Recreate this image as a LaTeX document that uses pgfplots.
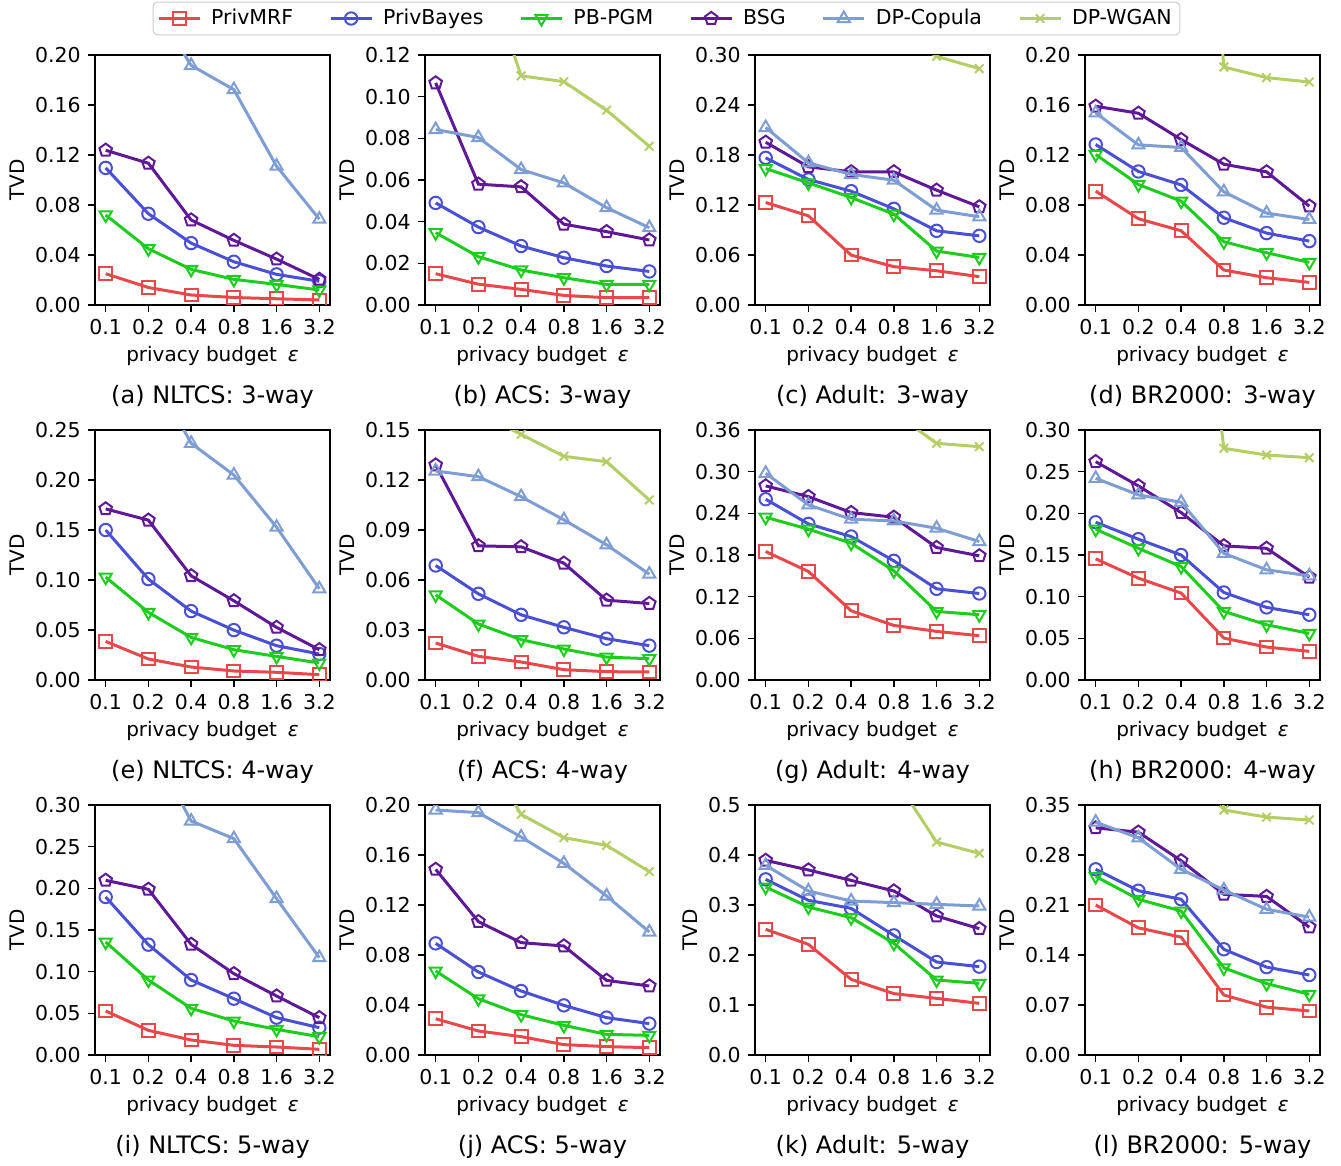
\documentclass[border=0pt]{standalone}
\usepackage{fontspec}
\setmainfont{DejaVu Sans}
\usepackage{pgfplots}
\pgfplotsset{compat=1.18}
\usetikzlibrary{plotmarks}
\newcommand{\ff}{\fontsize{10.25pt}{12.3pt}\selectfont}
\newcommand{\fc}{\fontsize{12pt}{14.4pt}\selectfont}
\definecolor{cMRF}{RGB}{232,72,74}
\definecolor{cPB}{RGB}{74,80,212}
\definecolor{cPGM}{RGB}{30,204,30}
\definecolor{cBSG}{RGB}{95,25,150}
\definecolor{cCOP}{RGB}{126,157,210}
\definecolor{cWG}{RGB}{180,205,100}
\pgfplotsset{
  panel/.style={
    scale only axis, width=117.5pt, height=125pt, anchor=south west,
    xmin=-0.25, xmax=5.25, ymin=0,
    xtick={0,1,2,3,4,5}, xticklabels={0.1,0.2,0.4,0.8,1.6,3.2},
    tick align=outside, xtick pos=left, ytick pos=left,
    major tick length=3.6pt,
    axis line style={line width=0.8pt},
    every tick/.style={black, line width=0.8pt},
    scaled y ticks=false,
    yticklabel style={/pgf/number format/.cd, fixed, fixed zerofill, precision=2},
    /pgf/number format/assume math mode=true,
    tick label style={font=\ff},
    label style={font=\ff},
    xlabel={privacy budget\hspace{0.55em}{\itshape ε}},
    ylabel={TVD},
    every axis x label/.style={at={(axis description cs:0.5,-0.202)}, anchor=center},
    every axis y label/.style={at={(axis description cs:-0.332,0.5)}, rotate=90, anchor=center},
    every axis title/.style={at={(axis description cs:0.5,-0.368)}, anchor=center, font=\fc},
    clip marker paths=true,
  },
  mrf/.style={color=cMRF, line width=1.5pt, mark=square, mark size=3.2pt, mark options={solid, line width=1pt}},
  pb/.style={color=cPB, line width=1.5pt, mark=o, mark size=3.1pt, mark options={solid, line width=1pt}},
  pgm/.style={color=cPGM, line width=1.5pt, mark=triangle, mark size=3.5pt, mark options={solid, line width=1pt, rotate=180}},
  bsg/.style={color=cBSG, line width=1.5pt, mark=pentagon, mark size=3.3pt, mark options={solid, line width=1pt}},
  cop/.style={color=cCOP, line width=1.5pt, mark=triangle, mark size=3.5pt, mark options={solid, line width=1pt}},
  wg/.style={color=cWG, line width=1.5pt, mark=x, mark size=3pt, mark options={solid, line width=1pt}},
}
\begin{document}
\begin{tikzpicture}
\useasboundingbox (0,0) rectangle (670.5pt,-583pt);
% (a)
\begin{axis}[panel, at={(47.5pt,-152.5pt)}, ymax=0.20, ytick={0,0.04,0.08,0.12,0.16,0.20}, title={(a) NLTCS: 3-way}]
\addplot[mrf] coordinates {(0,0.025)(1,0.014)(2,0.008)(3,0.006)(4,0.005)(5,0.004)};
\addplot[pb] coordinates {(0,0.1097)(1,0.073)(2,0.0495)(3,0.0346)(4,0.0245)(5,0.019)};
\addplot[pgm] coordinates {(0,0.072)(1,0.045)(2,0.0285)(3,0.0205)(4,0.0165)(5,0.012)};
\addplot[bsg] coordinates {(0,0.1238)(1,0.1134)(2,0.068)(3,0.0517)(4,0.0367)(5,0.0205)};
\addplot[cop] coordinates {(0,0.28)(1,0.247)(2,0.1917)(3,0.1723)(4,0.111)(5,0.0687)};
\end{axis}
% (b)
\begin{axis}[panel, at={(212.5pt,-152.5pt)}, ymax=0.12, ytick={0,0.02,0.04,0.06,0.08,0.10,0.12}, title={(b) ACS: 3-way},
  legend columns=6,
  legend image code/.code={\draw[sharp corners, mark repeat=2, mark phase=2] plot coordinates {(0pt,0pt) (10.25pt,0pt) (20.5pt,0pt)};},
  legend style={at={(1.0277,1.146)}, anchor=center, draw=black!20, line width=0.5pt, rounded corners=2pt, fill=white, font=\ff, inner xsep=2pt, inner ysep=1.5pt,
    /tikz/every odd column/.append style={column sep=3pt},
    /tikz/every even column/.append style={column sep=16pt}}]
\addplot[mrf] coordinates {(0,0.015)(1,0.010)(2,0.0075)(3,0.0046)(4,0.0035)(5,0.0035)};
\addplot[pb] coordinates {(0,0.049)(1,0.0374)(2,0.0283)(3,0.0227)(4,0.0187)(5,0.0161)};
\addplot[pgm] coordinates {(0,0.0347)(1,0.0232)(2,0.0168)(3,0.0131)(4,0.0099)(5,0.0099)};
\addplot[bsg] coordinates {(0,0.1066)(1,0.058)(2,0.0567)(3,0.0388)(4,0.0352)(5,0.0312)};
\addplot[cop] coordinates {(0,0.0842)(1,0.0804)(2,0.065)(3,0.0586)(4,0.0467)(5,0.0371)};
\addplot[wg] coordinates {(0,0.22)(1,0.171)(2,0.110)(3,0.1072)(4,0.0935)(5,0.0762)};
\legend{PrivMRF,PrivBayes,PB-PGM,BSG,DP-Copula,DP-WGAN}
\end{axis}
% (c)
\begin{axis}[panel, at={(377.5pt,-152.5pt)}, ymax=0.30, ytick={0,0.06,0.12,0.18,0.24,0.30}, title={(c) Adult: 3-way}]
\addplot[mrf] coordinates {(0,0.123)(1,0.107)(2,0.0599)(3,0.046)(4,0.0411)(5,0.034)};
\addplot[pb] coordinates {(0,0.1766)(1,0.1506)(2,0.1366)(3,0.1154)(4,0.089)(5,0.083)};
\addplot[pgm] coordinates {(0,0.1638)(1,0.1466)(2,0.129)(3,0.109)(4,0.0647)(5,0.0571)};
\addplot[bsg] coordinates {(0,0.1953)(1,0.1658)(2,0.1598)(3,0.1598)(4,0.1378)(5,0.1178)};
\addplot[cop] coordinates {(0,0.213)(1,0.1706)(2,0.1566)(3,0.1498)(4,0.1138)(5,0.1059)};
\addplot[wg] coordinates {(0,0.45)(1,0.40)(2,0.36)(3,0.33)(4,0.2984)(5,0.2836)};
\end{axis}
% (d)
\begin{axis}[panel, at={(542.5pt,-152.5pt)}, ymax=0.20, ytick={0,0.04,0.08,0.12,0.16,0.20}, title={(d) BR2000: 3-way}]
\addplot[mrf] coordinates {(0,0.0911)(1,0.069)(2,0.0594)(3,0.028)(4,0.0218)(5,0.0181)};
\addplot[pb] coordinates {(0,0.1284)(1,0.1068)(2,0.0961)(3,0.0698)(4,0.0575)(5,0.0511)};
\addplot[pgm] coordinates {(0,0.1204)(1,0.0964)(2,0.0831)(3,0.0506)(4,0.0418)(5,0.0341)};
\addplot[bsg] coordinates {(0,0.159)(1,0.1534)(2,0.1324)(3,0.1126)(4,0.1065)(5,0.0791)};
\addplot[cop] coordinates {(0,0.1537)(1,0.1281)(2,0.126)(3,0.0905)(4,0.0735)(5,0.0684)};
\addplot[wg] coordinates {(0,0.75)(1,0.70)(2,0.62)(3,0.1904)(4,0.1819)(5,0.1784)};
\end{axis}
% (e)
\begin{axis}[panel, at={(47.5pt,-340pt)}, ymax=0.25, ytick={0,0.05,0.10,0.15,0.20,0.25}, title={(e) NLTCS: 4-way}]
\addplot[mrf] coordinates {(0,0.0386)(1,0.021)(2,0.013)(3,0.009)(4,0.0077)(5,0.0053)};
\addplot[pb] coordinates {(0,0.150)(1,0.1009)(2,0.0689)(3,0.0499)(4,0.0343)(5,0.026)};
\addplot[pgm] coordinates {(0,0.1029)(1,0.0676)(2,0.0426)(3,0.0303)(4,0.0236)(5,0.017)};
\addplot[bsg] coordinates {(0,0.1711)(1,0.1598)(2,0.1042)(3,0.0792)(4,0.0526)(5,0.0303)};
\addplot[cop] coordinates {(0,0.36)(1,0.315)(2,0.2367)(3,0.205)(4,0.1528)(5,0.0912)};
\end{axis}
% (f)
\begin{axis}[panel, at={(212.5pt,-340pt)}, ymax=0.15, ytick={0,0.03,0.06,0.09,0.12,0.15}, title={(f) ACS: 4-way}]
\addplot[mrf] coordinates {(0,0.0222)(1,0.0142)(2,0.0108)(3,0.0062)(4,0.0050)(5,0.0048)};
\addplot[pb] coordinates {(0,0.0687)(1,0.0517)(2,0.0391)(3,0.0316)(4,0.0248)(5,0.0206)};
\addplot[pgm] coordinates {(0,0.0511)(1,0.0336)(2,0.0242)(3,0.0186)(4,0.0137)(5,0.0128)};
\addplot[bsg] coordinates {(0,0.129)(1,0.0805)(2,0.0799)(3,0.0701)(4,0.0479)(5,0.0459)};
\addplot[cop] coordinates {(0,0.1254)(1,0.122)(2,0.110)(3,0.0961)(4,0.0811)(5,0.0635)};
\addplot[wg] coordinates {(0,0.19)(1,0.160)(2,0.1474)(3,0.1342)(4,0.131)(5,0.108)};
\end{axis}
% (g)
\begin{axis}[panel, at={(377.5pt,-340pt)}, ymax=0.36, ytick={0,0.06,0.12,0.18,0.24,0.30,0.36}, title={(g) Adult: 4-way}]
\addplot[mrf] coordinates {(0,0.185)(1,0.1563)(2,0.0997)(3,0.0786)(4,0.070)(5,0.0638)};
\addplot[pb] coordinates {(0,0.2603)(1,0.2248)(2,0.2066)(3,0.1716)(4,0.1313)(5,0.1246)};
\addplot[pgm] coordinates {(0,0.2344)(1,0.2172)(2,0.197)(3,0.1572)(4,0.0987)(5,0.094)};
\addplot[bsg] coordinates {(0,0.2795)(1,0.2641)(2,0.2411)(3,0.2344)(4,0.1908)(5,0.1788)};
\addplot[cop] coordinates {(0,0.2977)(1,0.2521)(2,0.2315)(3,0.2291)(4,0.2186)(5,0.1994)};
\addplot[wg] coordinates {(0,0.50)(1,0.45)(2,0.42)(3,0.3855)(4,0.3408)(5,0.336)};
\end{axis}
% (h)
\begin{axis}[panel, at={(542.5pt,-340pt)}, ymax=0.30, ytick={0,0.05,0.10,0.15,0.20,0.25,0.30}, title={(h) BR2000: 4-way}]
\addplot[mrf] coordinates {(0,0.1454)(1,0.1222)(2,0.1043)(3,0.0503)(4,0.0395)(5,0.0344)};
\addplot[pb] coordinates {(0,0.1893)(1,0.169)(2,0.150)(3,0.105)(4,0.0871)(5,0.0783)};
\addplot[pgm] coordinates {(0,0.181)(1,0.158)(2,0.1362)(3,0.0823)(4,0.0663)(5,0.0559)};
\addplot[bsg] coordinates {(0,0.262)(1,0.2329)(2,0.2009)(3,0.161)(4,0.158)(5,0.1234)};
\addplot[cop] coordinates {(0,0.242)(1,0.2221)(2,0.2133)(3,0.152)(4,0.1322)(5,0.125)};
\addplot[wg] coordinates {(0,0.80)(1,0.75)(2,0.70)(3,0.278)(4,0.270)(5,0.2668)};
\end{axis}
% (i)
\begin{axis}[panel, at={(47.5pt,-527.5pt)}, ymax=0.30, ytick={0,0.05,0.10,0.15,0.20,0.25,0.30}, title={(i) NLTCS: 5-way}]
\addplot[mrf] coordinates {(0,0.0528)(1,0.0296)(2,0.018)(3,0.0116)(4,0.0096)(5,0.0068)};
\addplot[pb] coordinates {(0,0.1896)(1,0.1324)(2,0.090)(3,0.0676)(4,0.0448)(5,0.0328)};
\addplot[pgm] coordinates {(0,0.1356)(1,0.09)(2,0.056)(3,0.0408)(4,0.0308)(5,0.022)};
\addplot[bsg] coordinates {(0,0.2096)(1,0.1988)(2,0.1328)(3,0.0976)(4,0.0708)(5,0.0448)};
\addplot[cop] coordinates {(0,0.42)(1,0.377)(2,0.2808)(3,0.2596)(4,0.1876)(5,0.1168)};
\end{axis}
% (j)
\begin{axis}[panel, at={(212.5pt,-527.5pt)}, ymax=0.20, ytick={0,0.04,0.08,0.12,0.16,0.20}, title={(j) ACS: 5-way}]
\addplot[mrf] coordinates {(0,0.029)(1,0.0192)(2,0.0147)(3,0.0083)(4,0.0067)(5,0.0059)};
\addplot[pb] coordinates {(0,0.0893)(1,0.0664)(2,0.0512)(3,0.0397)(4,0.0299)(5,0.0251)};
\addplot[pgm] coordinates {(0,0.0672)(1,0.045)(2,0.0323)(3,0.0237)(4,0.0165)(5,0.0157)};
\addplot[bsg] coordinates {(0,0.1485)(1,0.1067)(2,0.0899)(3,0.0872)(4,0.0597)(5,0.0552)};
\addplot[cop] coordinates {(0,0.196)(1,0.1939)(2,0.1744)(3,0.1533)(4,0.1272)(5,0.0984)};
\addplot[wg] coordinates {(0,0.30)(1,0.25)(2,0.1925)(3,0.1739)(4,0.1677)(5,0.1467)};
\end{axis}
% (k)
\begin{axis}[panel, at={(377.5pt,-527.5pt)}, ymax=0.5, ytick={0,0.1,0.2,0.3,0.4,0.5}, title={(k) Adult: 5-way},
  yticklabel style={/pgf/number format/.cd, fixed, fixed zerofill, precision=1},
  every axis y label/.style={at={(axis description cs:-0.277,0.5)}, rotate=90, anchor=center}]
\addplot[mrf] coordinates {(0,0.2513)(1,0.2213)(2,0.1513)(3,0.1227)(4,0.1133)(5,0.1033)};
\addplot[pb] coordinates {(0,0.3513)(1,0.3093)(2,0.2933)(3,0.2393)(4,0.186)(5,0.1767)};
\addplot[pgm] coordinates {(0,0.336)(1,0.296)(2,0.2747)(3,0.2233)(4,0.15)(5,0.1433)};
\addplot[bsg] coordinates {(0,0.3893)(1,0.37)(2,0.3493)(3,0.328)(4,0.278)(5,0.2527)};
\addplot[cop] coordinates {(0,0.3793)(1,0.328)(2,0.308)(3,0.3047)(4,0.3013)(5,0.298)};
\addplot[wg] coordinates {(0,0.80)(1,0.70)(2,0.65)(3,0.556)(4,0.426)(5,0.4033)};
\end{axis}
% (l)
\begin{axis}[panel, at={(542.5pt,-527.5pt)}, ymax=0.35, ytick={0,0.07,0.14,0.21,0.28,0.35}, title={(l) BR2000: 5-way}]
\addplot[mrf] coordinates {(0,0.21)(1,0.178)(2,0.165)(3,0.084)(4,0.067)(5,0.0616)};
\addplot[pb] coordinates {(0,0.26)(1,0.23)(2,0.218)(3,0.148)(4,0.123)(5,0.112)};
\addplot[pgm] coordinates {(0,0.25)(1,0.218)(2,0.2016)(3,0.122)(4,0.1)(5,0.085)};
\addplot[bsg] coordinates {(0,0.318)(1,0.312)(2,0.272)(3,0.225)(4,0.222)(5,0.179)};
\addplot[cop] coordinates {(0,0.326)(1,0.304)(2,0.26)(3,0.231)(4,0.204)(5,0.193)};
\addplot[wg] coordinates {(0,0.90)(1,0.80)(2,0.70)(3,0.343)(4,0.333)(5,0.329)};
\end{axis}
\end{tikzpicture}
\end{document}
